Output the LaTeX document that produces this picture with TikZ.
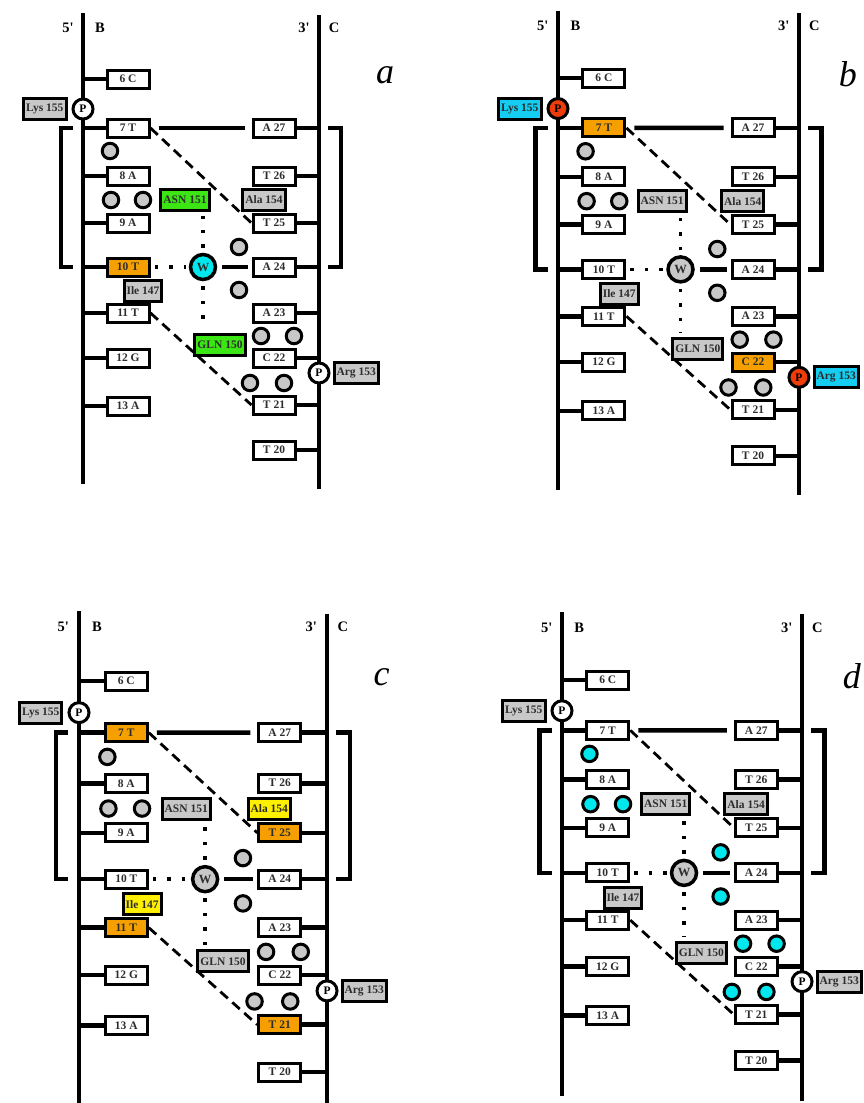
\documentclass[tikz,border=0pt]{standalone}
\usepackage{fontspec}
\setmainfont{Liberation Serif}
\usetikzlibrary{positioning}
\definecolor{HiOrange}{RGB}{245,160,0}
\definecolor{HiGreen}{RGB}{60,230,20}
\definecolor{HiCyan}{RGB}{0,232,238}
\definecolor{HiBlue}{RGB}{20,205,240}
\definecolor{HiRed}{RGB}{238,60,10}
\definecolor{HiYellow}{RGB}{255,240,0}
\definecolor{ResGray}{RGB}{200,200,200}
\definecolor{LabelInk}{RGB}{45,45,45}

% one duplex panel, local units = pixels of panel a
\newcommand{\dnapanel}[2]{%
    % backbones
    \coordinate (bk) at (0,0);
    \coordinate (ck) at (236,0);
    \draw[strand] (0,-66) -- (0,405);
    \draw[strand] (236,-64) -- (236,410);
    \node[endlabel] (five) at (-15,-51) {5\textquotesingle};
    \node[endlabel] (nameB) at (17,-51) {B};
    \node[endlabel] (three) at (221,-51) {3\textquotesingle};
    \node[endlabel] (nameC) at (251,-51) {C};
    \node[panelletter] (tag) at (#2,-4) {#1};

    % strand B bases
    \node[base] (n6) at (45,0) {6 C};
    \node[base, hl7] (n7) at (45,49) {7 T};
    \node[base] (n8) at (45,97) {8 A};
    \node[base] (n9) at (45,144) {9 A};
    \node[base, hl10] (n10) at (45,188) {10 T};
    \node[base, hl11] (n11) at (45,234) {11 T};
    \node[base] (n12) at (45,279) {12 G};
    \node[base] (n13) at (45,327) {13 A};

    % strand C bases
    \node[base] (c27) at (191,49) {A 27};
    \node[base] (c26) at (191,97) {T 26};
    \node[base, hl25] (c25) at (191,144) {T 25};
    \node[base] (c24) at (191,188) {A 24};
    \node[base] (c23) at (191,234) {A 23};
    \node[base, hl22] (c22) at (191,279) {C 22};
    \node[base, hl21] (c21) at (191,326) {T 21};
    \node[base] (c20) at (191,371) {T 20};

    \foreach \b in {6,...,13} \draw[stub] (bk |- n\b) -- (n\b.west);
    \foreach \b in {20,...,27} \draw[stub] (c\b.east) -- (ck |- c\b);

    % phosphates
    \node[phos, hlP] (pB) at (0,30) {P};
    \node[res, hlLys, left=4pt of pB] (lys) {Lys 155};
    \node[phos, hlP] (pC) at (236,294) {P};
    \node[res, hlArg, right=2pt of pC] (arg) {Arg 153};

    % brackets
    \draw[strand] (-10,49) -- (-22,49) -- (-22,188) -- (-10,188);
    \draw[strand] (245,49) -- (258,49) -- (258,188) -- (245,188);

    % pairing and paths
    \draw[strand, shorten <=8pt, shorten >=7pt] (n7) -- (c27);
    \draw[hbond] (n7.east) -- (c25.west);
    \draw[hbond] (n11.east) -- (c21.west);

    % protein contacts
    \node[res, hlAsn] (asn) at (102,121) {ASN 151};
    \node[res, hlAla] (ala) at (181,121) {Ala 154};
    \node[res, hlIle] (ile) at (60,212) {Ile 147};
    \node[res, hlGln] (gln) at (137,266) {GLN 150};

    % water
    \node[water, hlW] (W) at (120,188) {W};
    \draw[contact, shorten <=4pt, shorten >=3pt] (n10.east) -- (W.west);
    \draw[strand, shorten <=5pt, shorten >=4pt] (W.east) -- (c24.west);
    \draw[contact, shorten <=5pt, shorten >=4pt] (W.north) -- (W.north |- asn.south);
    \draw[contact, shorten <=5pt, shorten >=4pt] (W.south) -- (W.south |- gln.north);

    \foreach \p [count=\i] in {(27,72),(28,121),(60,121),(156,168),(156,211),(178,257),(211,257),(167,304),(201,304)}
        \node[blob, hlBlob] (g\i) at \p {};
}

\begin{document}
\begin{tikzpicture}[x=1pt, y=-1pt,
    strand/.style={line width=4.5pt},
    stub/.style={line width=4.5pt},
    base/.style={rectangle, draw, line width=3pt, fill=white, minimum width=42pt, minimum height=18pt, inner sep=0pt, text=LabelInk, font=\bfseries\fontsize{11.5}{11.5}\selectfont},
    res/.style={rectangle, draw, line width=3pt, fill=ResGray, minimum height=21pt, inner xsep=2.5pt, inner ysep=0pt, text=LabelInk, font=\bfseries\fontsize{11.5}{11.5}\selectfont},
    phos/.style={circle, draw, line width=3pt, fill=white, minimum size=20pt, inner sep=0pt, font=\bfseries\fontsize{11.5}{11.5}\selectfont},
    water/.style={circle, draw, line width=3.5pt, fill=ResGray, minimum size=25pt, inner sep=0pt, text=LabelInk, font=\bfseries\fontsize{12.5}{12.5}\selectfont},
    blob/.style={circle, draw, line width=3pt, fill=ResGray, minimum size=15.5pt, inner sep=0pt},
    hbond/.style={line width=2.8pt, dash pattern=on 10pt off 6pt},
    contact/.style={line width=3.5pt, dash pattern=on 3.5pt off 11pt},
    endlabel/.style={inner sep=0pt, font=\bfseries\fontsize{14.5}{14.5}\selectfont},
    panelletter/.style={inner sep=0pt, font=\itshape\fontsize{36}{36}\selectfont},
    % highlight hooks, switched on per panel
    hl7/.style={}, hl10/.style={}, hl11/.style={}, hl21/.style={}, hl22/.style={}, hl25/.style={},
    hlW/.style={}, hlP/.style={}, hlBlob/.style={},
    hlLys/.style={}, hlArg/.style={}, hlAsn/.style={}, hlGln/.style={}, hlAla/.style={}, hlIle/.style={}
]
    \useasboundingbox (0,0) rectangle (863,1103);

    % panel a
    \begin{scope}[shift={(83,79)}, name prefix=a-,
        hl10/.style={fill=HiOrange}, hlW/.style={fill=HiCyan},
        hlAsn/.style={fill=HiGreen}, hlGln/.style={fill=HiGreen}]
        \dnapanel{a}{302}
    \end{scope}

    % panel b
    \begin{scope}[shift={(558,78)}, xscale=1.021, yscale=1.018, name prefix=b-,
        hl7/.style={fill=HiOrange}, hl22/.style={fill=HiOrange}, hlP/.style={fill=HiRed},
        hlLys/.style={fill=HiBlue}, hlArg/.style={fill=HiBlue}]
        \dnapanel{b}{284}
    \end{scope}

    % panel c
    \begin{scope}[shift={(79,681)}, xscale=1.051, yscale=1.054, name prefix=c-,
        hl7/.style={fill=HiOrange}, hl11/.style={fill=HiOrange}, hl21/.style={fill=HiOrange}, hl25/.style={fill=HiOrange},
        hlAla/.style={fill=HiYellow}, hlIle/.style={fill=HiYellow}]
        \dnapanel{c}{288}
    \end{scope}

    % panel d
    \begin{scope}[shift={(562,680)}, xscale=1.017, yscale=1.026, name prefix=d-,
        hlBlob/.style={fill=HiCyan}]
        \dnapanel{d}{285}
    \end{scope}
\end{tikzpicture}
\end{document}
